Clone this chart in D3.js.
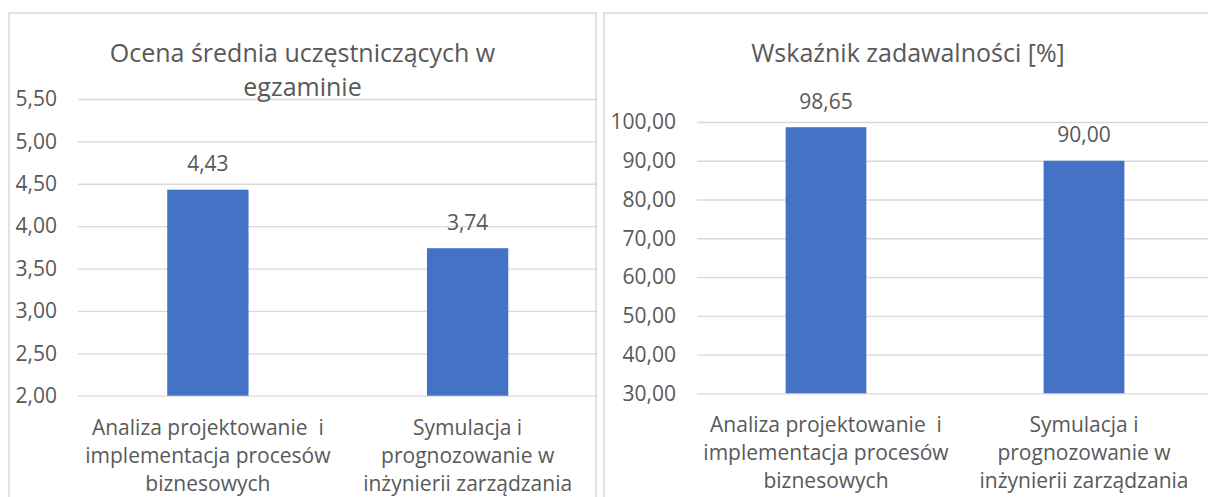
<!DOCTYPE html>
<html><head><meta charset="utf-8">
<script src="https://cdn.jsdelivr.net/npm/d3@7"></script>
<style>
html,body{margin:0;padding:0;background:#fff;}
text{font-family:"Open Sans",sans-serif;fill:#595959;}
</style></head>
<body>
<svg id="c" width="1208" height="497"></svg>
<script>
// ---- data ----
const categories = [
  ["Analiza projektowanie  i", "implementacja procesów", "biznesowych"],
  ["Symulacja i", "prognozowanie w", "inżynierii zarządzania"]
];
const titleLeft = ["Ocena średnia uczęstniczących w", "egzaminie"];
const titleRight = ["Wskaźnik zadawalności [%]"];
const valuesLeft = [4.43, 3.74];
const valuesRight = [98.65, 90.00];
const ticksLeft = [2.0, 2.5, 3.0, 3.5, 4.0, 4.5, 5.0, 5.5];
const ticksRight = [30, 40, 50, 60, 70, 80, 90, 100];

const svg = d3.select("#c");
const fmt = v => d3.format(".2f")(v).replace(".", ",");

function chart(cfg) {
  const g = svg.append("g");
  g.append("rect").attr("x", cfg.box[0]).attr("y", cfg.box[1])
    .attr("width", cfg.box[2]).attr("height", cfg.box[3])
    .attr("fill", "none").attr("stroke", "#d9d9d9").attr("stroke-width", 1.5);

  const x = d3.scaleBand().domain(d3.range(cfg.values.length))
    .range(cfg.xr).paddingInner(0.687).paddingOuter(0.3435);
  const y = d3.scaleLinear().domain(cfg.domain).range(cfg.yr);

  // gridlines
  const yAxis = d3.axisLeft(y).tickValues(cfg.ticks).tickFormat(fmt)
    .tickSize(-(cfg.xr[1] - cfg.xr[0])).tickPadding(21);
  const ax = g.append("g").attr("transform", `translate(${cfg.xr[0]},0)`).call(yAxis);
  ax.select(".domain").remove();
  ax.selectAll(".tick line").attr("stroke", "#d9d9d9").attr("stroke-width", 1.3);
  ax.selectAll(".tick text").attr("font-size", 21).attr("fill", "#595959")
    .style("font-family", '"Open Sans",sans-serif');

  // bars
  g.selectAll("rect.bar").data(cfg.values).join("rect").attr("class", "bar")
    .attr("x", (d, i) => x(i)).attr("width", x.bandwidth())
    .attr("y", d => y(d)).attr("height", d => y(cfg.domain[0]) - y(d))
    .attr("fill", "#4472c4");

  // data labels
  g.selectAll("text.dl").data(cfg.values).join("text").attr("class", "dl")
    .attr("x", (d, i) => x(i) + x.bandwidth() / 2).attr("y", d => y(d) - 18.5)
    .attr("text-anchor", "middle").attr("font-size", 21).text(fmt);

  // category labels
  categories.forEach((lines, i) => {
    lines.forEach((ln, j) => {
      g.append("text").attr("x", x(i) + x.bandwidth() / 2)
        .attr("y", y(cfg.domain[0]) + 39 + j * 28)
        .attr("text-anchor", "middle").attr("font-size", 21)
        .attr("xml:space", "preserve").style("white-space", "pre").text(ln);
    });
  });

  // title
  cfg.title.forEach((ln, j) => {
    g.append("text").attr("x", cfg.tx).attr("y", cfg.ty + j * 34)
      .attr("text-anchor", "middle").attr("font-size", 25).text(ln);
  });
}

chart({box: [9, 13, 587, 500], xr: [78, 597.5], yr: [395.7, 99], domain: [2, 5.5],
  ticks: ticksLeft, values: valuesLeft, title: titleLeft, tx: 302.5, ty: 62});
chart({box: [604, 13, 620, 500], xr: [697, 1213], yr: [393.3, 122], domain: [30, 100],
  ticks: ticksRight, values: valuesRight, title: titleRight, tx: 908, ty: 62});
</script>
</body></html>
